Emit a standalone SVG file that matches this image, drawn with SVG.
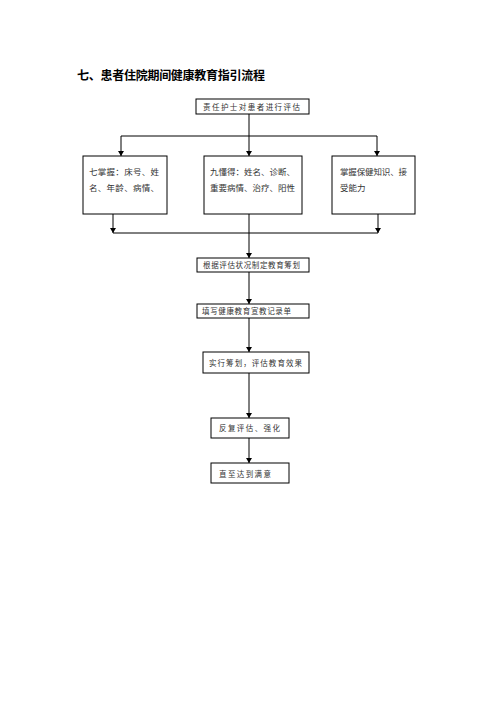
<svg xmlns="http://www.w3.org/2000/svg" width="500" height="707" viewBox="0 0 500 707">
<style>
.box{fill:#fff;stroke:#000;stroke-width:1}
.ln{stroke:#000;stroke-width:1;fill:none}
.t{font-family:"Noto Sans CJK SC","Liberation Serif",serif;fill:#333}
.s{font-size:7.5px}
.m{font-size:8.5px}
.title{font-family:"Noto Sans CJK SC","Liberation Sans",sans-serif;font-size:12px;font-weight:bold;fill:#000}
</style>
<defs>
<marker id="ah" markerWidth="6" markerHeight="6" refX="5" refY="3" orient="auto" markerUnits="userSpaceOnUse">
<path d="M0,0 L5,3 L0,6 Z" fill="#000"/>
</marker>
</defs>
<rect width="500" height="707" fill="#fff"/>
<text class="title" x="77" y="80" textLength="188" lengthAdjust="spacing">七、患者住院期间健康教育指引流程</text>

<g id="connectors">
<line class="ln" x1="249" y1="114" x2="249" y2="136"/>
<line class="ln" x1="121" y1="136" x2="377" y2="136"/>
<line class="ln" x1="121" y1="136" x2="121" y2="156" marker-end="url(#ah)"/>
<line class="ln" x1="249" y1="136" x2="249" y2="156" marker-end="url(#ah)"/>
<line class="ln" x1="377" y1="136" x2="377" y2="156" marker-end="url(#ah)"/>
<line class="ln" x1="113" y1="214" x2="113" y2="233" marker-end="url(#ah)"/>
<line class="ln" x1="378" y1="214" x2="378" y2="233" marker-end="url(#ah)"/>
<line class="ln" x1="113" y1="233" x2="378" y2="233"/>
<line class="ln" x1="249" y1="214" x2="249" y2="258" marker-end="url(#ah)"/>
<line class="ln" x1="249" y1="272" x2="249" y2="304" marker-end="url(#ah)"/>
<line class="ln" x1="249" y1="318" x2="249" y2="352" marker-end="url(#ah)"/>
<line class="ln" x1="249" y1="373" x2="249" y2="418" marker-end="url(#ah)"/>
<line class="ln" x1="249" y1="438" x2="249" y2="463" marker-end="url(#ah)"/>
</g>

<g id="n1">
<rect class="box" x="196" y="99" width="113" height="15"/>
<text class="t s" x="203" y="110" textLength="97" lengthAdjust="spacing">责任护士对患者进行评估</text>
</g>
<g id="n2">
<rect class="box" x="83" y="156" width="84" height="58"/>
<text class="t m" x="89" y="175" textLength="70" lengthAdjust="spacing">七掌握：床号、姓</text>
<text class="t m" x="89" y="191" textLength="70" lengthAdjust="spacing">名、年龄、病情、</text>
</g>
<g id="n3">
<rect class="box" x="204" y="156" width="98" height="58"/>
<text class="t m" x="210" y="175" textLength="85" lengthAdjust="spacing">九懂得：姓名、诊断、</text>
<text class="t m" x="210" y="191" textLength="85" lengthAdjust="spacing">重要病情、治疗、阳性</text>
</g>
<g id="n4">
<rect class="box" x="332" y="156" width="83" height="58"/>
<text class="t m" x="340" y="175" textLength="67" lengthAdjust="spacing">掌握保健知识、接</text>
<text class="t m" x="340" y="191">受能力</text>
</g>
<g id="n5">
<rect class="box" x="197" y="258" width="112" height="14"/>
<text class="t s" x="203" y="268" textLength="97" lengthAdjust="spacing">根据评估状况制定教育筹划</text>
</g>
<g id="n6">
<rect class="box" x="197" y="304" width="112" height="14"/>
<text class="t s" x="202" y="314" textLength="89" lengthAdjust="spacing">填写健康教育宣教记录单</text>
</g>
<g id="n7">
<rect class="box" x="203" y="352" width="106" height="21"/>
<text class="t s" x="209" y="366" textLength="93" lengthAdjust="spacing">实行筹划，评估教育效果</text>
</g>
<g id="n8">
<rect class="box" x="211" y="418" width="78" height="20"/>
<text class="t s" x="219" y="431" textLength="61" lengthAdjust="spacing">反复评估、强化</text>
</g>
<g id="n9">
<rect class="box" x="211" y="463" width="78" height="20"/>
<text class="t s" x="219" y="477" textLength="52" lengthAdjust="spacing">直至达到满意</text>
</g>
</svg>
